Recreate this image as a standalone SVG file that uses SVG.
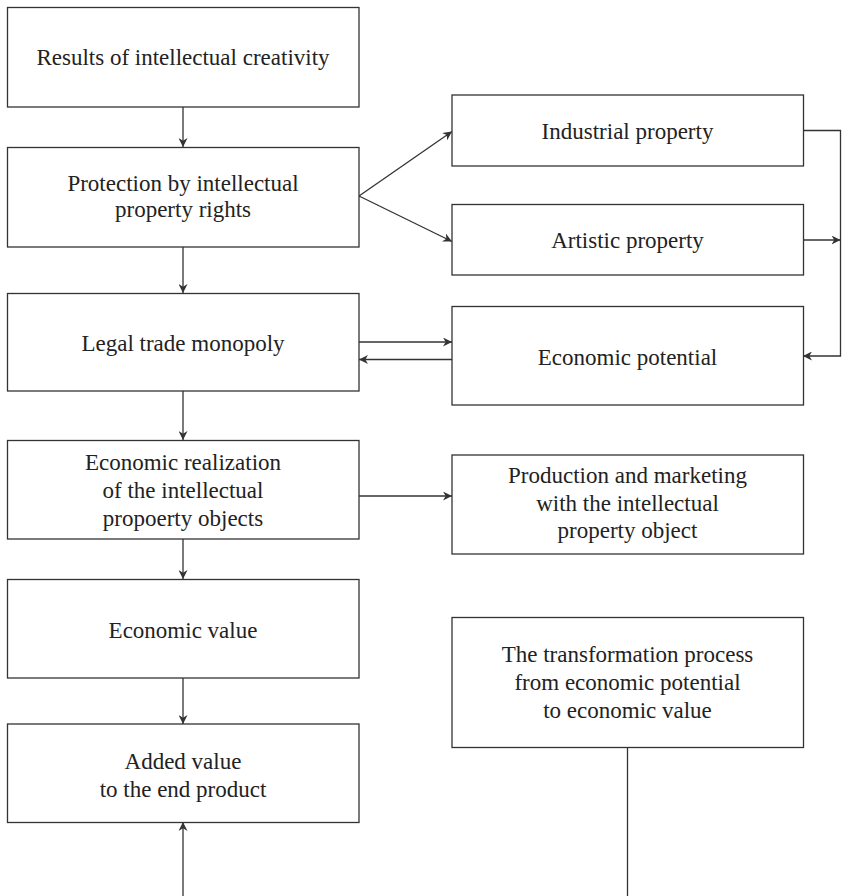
<svg xmlns="http://www.w3.org/2000/svg" width="842" height="896" viewBox="0 0 842 896">
<style>
rect{fill:#fff;stroke:#333;stroke-width:1.3}
text{font-family:"Liberation Serif","Times New Roman",serif;font-size:23px;fill:#222;text-anchor:middle}
.c{fill:none;stroke:#333;stroke-width:1.3}
</style>
<defs>
<marker id="a" viewBox="0 0 10 10" refX="10" refY="5" markerWidth="9" markerHeight="9" markerUnits="userSpaceOnUse" orient="auto">
<path d="M0,0 L10,5 L0,10 L3,5 Z" fill="#333"/>
</marker>
</defs>
<rect width="842" height="896" style="stroke:none"/>
<g id="connectors">
<line class="c" x1="183" y1="107" x2="183" y2="147" marker-end="url(#a)"/>
<line class="c" x1="183" y1="247" x2="183" y2="293" marker-end="url(#a)"/>
<line class="c" x1="183" y1="391" x2="183" y2="440" marker-end="url(#a)"/>
<line class="c" x1="183" y1="539" x2="183" y2="579" marker-end="url(#a)"/>
<line class="c" x1="183" y1="678" x2="183" y2="724" marker-end="url(#a)"/>
<line class="c" x1="183" y1="896" x2="183" y2="822" marker-end="url(#a)"/>
<line class="c" x1="359" y1="196" x2="452" y2="131.5" marker-end="url(#a)"/>
<line class="c" x1="359" y1="196" x2="452" y2="241.5" marker-end="url(#a)"/>
<polyline class="c" points="803,130.5 840.5,130.5 840.5,356 803,356" marker-end="url(#a)"/>
<line class="c" x1="803" y1="240" x2="840.5" y2="240" marker-end="url(#a)"/>
<line class="c" x1="359" y1="342" x2="452" y2="342" marker-end="url(#a)"/>
<line class="c" x1="452" y1="359.5" x2="359" y2="359.5" marker-end="url(#a)"/>
<line class="c" x1="359" y1="496" x2="452" y2="496" marker-end="url(#a)"/>
<line class="c" x1="627.5" y1="748" x2="627.5" y2="896"/>
</g>
<g id="n1"><rect x="7.5" y="7.5" width="351.5" height="99.5"/><text x="183" y="65">Results of intellectual creativity</text></g>
<g id="n2"><rect x="7.5" y="147.5" width="351.5" height="99.5"/><text x="183" y="191">Protection by intellectual</text><text x="183" y="217">property rights</text></g>
<g id="n3"><rect x="7.5" y="293.5" width="351.5" height="97.5"/><text x="183" y="350.5">Legal trade monopoly</text></g>
<g id="n4"><rect x="7.5" y="440.5" width="351.5" height="98.5"/><text x="183" y="469.5">Economic realization</text><text x="183" y="497.5">of the intellectual</text><text x="183" y="525.5">propoerty objects</text></g>
<g id="n5"><rect x="7.5" y="579.5" width="351.5" height="98.5"/><text x="183" y="638">Economic value</text></g>
<g id="n6"><rect x="7.5" y="724" width="351.5" height="98.5"/><text x="183" y="768.5">Added value</text><text x="183" y="796.5">to the end product</text></g>
<g id="n7"><rect x="452" y="95" width="351.5" height="71"/><text x="627.5" y="139">Industrial property</text></g>
<g id="n8"><rect x="452" y="204.5" width="351.5" height="70.5"/><text x="627.5" y="248">Artistic property</text></g>
<g id="n9"><rect x="452" y="306.5" width="351.5" height="98.5"/><text x="627.5" y="365">Economic potential</text></g>
<g id="n10"><rect x="452" y="455" width="351.5" height="99"/><text x="627.5" y="483">Production and marketing</text><text x="627.5" y="510.5">with the intellectual</text><text x="627.5" y="538">property object</text></g>
<g id="n11"><rect x="452" y="617.5" width="351.5" height="130"/><text x="627.5" y="661.5">The transformation process</text><text x="627.5" y="689.5">from economic potential</text><text x="627.5" y="717.5">to economic value</text></g>
</svg>
